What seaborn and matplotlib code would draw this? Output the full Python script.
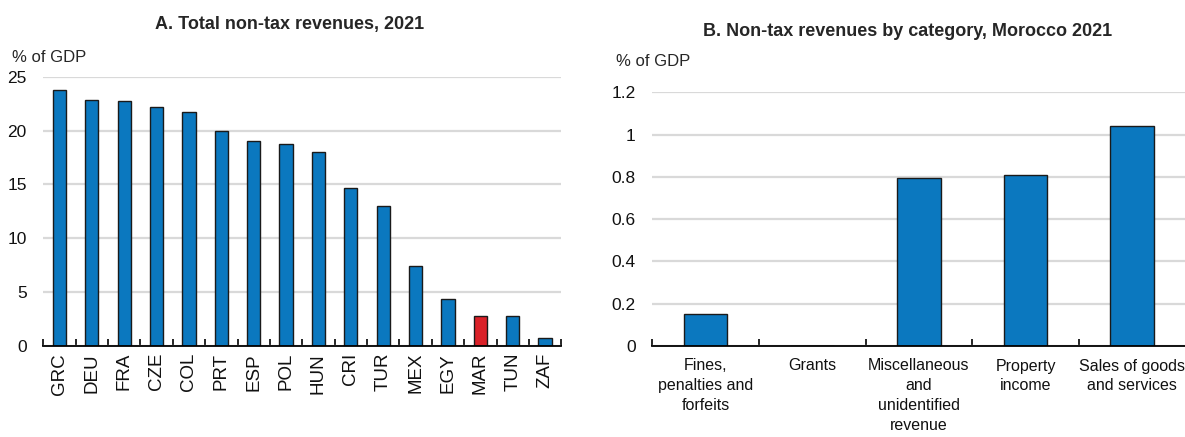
import matplotlib
matplotlib.use("Agg")
import matplotlib.pyplot as plt
import seaborn as sns
import pandas as pd
from matplotlib.ticker import FixedLocator, NullFormatter

# ---- data ----
countries = ["GRC", "DEU", "FRA", "CZE", "COL", "PRT", "ESP", "POL", "HUN",
             "CRI", "TUR", "MEX", "EGY", "MAR", "TUN", "ZAF"]
nontax_total = [23.8, 22.8, 22.7, 22.2, 21.7, 20.0, 19.0, 18.75, 18.0,
                14.65, 13.0, 7.4, 4.4, 2.8, 2.75, 0.7]
highlight = "MAR"

categories = ["Fines,\npenalties and\nforfeits", "Grants",
              "Miscellaneous\nand\nunidentified\nrevenue", "Property\nincome",
              "Sales of goods\nand services"]
morocco_values = [0.15, 0.0, 0.795, 0.81, 1.04]

title_a = "A. Total non-tax revenues, 2021"
title_b = "B. Non-tax revenues by category, Morocco 2021"
unit = "% of GDP"
yticks_a = [0, 5, 10, 15, 20, 25]
yticks_b = [0, 0.2, 0.4, 0.6, 0.8, 1, 1.2]
yticklabels_b = ["0", "0.2", "0.4", "0.6", "0.8", "1", "1.2"]

BLUE = "#0B78BF"
RED = "#DA2128"
GRID = "#D9D9D9"

sns.set_theme(style="white")
plt.rcParams["font.family"] = ["Liberation Sans", "DejaVu Sans"]

W, H = 1185, 437
fig = plt.figure(figsize=(W / 100, H / 100), dpi=100)

def ax_rect(x0, x1, ytop, ybot):
    return [x0 / W, 1 - ybot / H, (x1 - x0) / W, (ybot - ytop) / H]

axA = fig.add_axes(ax_rect(43.3, 561.3, 76.7, 346))
axB = fig.add_axes(ax_rect(652.3, 1185.5, 92.3, 346))

fs = 12.5

def style(ax, n, ymax, yticks, ylabels):
    ax.set_ylim(0, ymax)
    ax.set_xlim(-0.5, n - 0.5)
    ax.set_yticks(yticks)
    ax.set_yticklabels(ylabels, fontsize=fs)
    ax.yaxis.grid(True, color=GRID, linewidth=1.6)
    ax.xaxis.grid(False)
    ax.set_axisbelow(True)
    for s in ["left", "right", "top"]:
        ax.spines[s].set_visible(False)
    ax.spines["bottom"].set_color("black")
    ax.spines["bottom"].set_linewidth(1.3)
    ax.spines["bottom"].set_zorder(5)
    ax.tick_params(axis="y", length=0, pad=12, labelcolor="#111111")
    ax.tick_params(axis="x", which="major", length=0, labelcolor="#111111")
    ax.xaxis.set_minor_locator(FixedLocator([i - 0.5 for i in range(n + 1)]))
    ax.xaxis.set_minor_formatter(NullFormatter())
    ax.tick_params(axis="x", which="minor", direction="in", length=5,
                   width=1.2, color="black", bottom=True)
    ax.set_xlabel("")
    ax.set_ylabel("")

# ---- panel A ----
dfA = pd.DataFrame({"country": countries, "value": nontax_total})
palA = {c: (RED if c == highlight else BLUE) for c in countries}
sns.barplot(data=dfA, x="country", y="value", hue="country", palette=palA,
            order=countries, width=0.41, edgecolor="#1a1a1a", linewidth=1.0,
            saturation=1, legend=False, ax=axA)
style(axA, len(countries), 25, yticks_a, [str(v) for v in yticks_a])
axA.set_xticks(range(len(countries)))
axA.set_xticklabels(countries, rotation=90, fontsize=13.5)
axA.tick_params(axis="x", which="major", pad=5)

# ---- panel B ----
dfB = pd.DataFrame({"category": categories, "value": morocco_values})
sns.barplot(data=dfB, x="category", y="value", color=BLUE, order=categories,
            width=0.41, edgecolor="#1a1a1a", linewidth=1.0, saturation=1,
            ax=axB)
style(axB, len(categories), 1.2, yticks_b, yticklabels_b)
axB.set_xticks(range(len(categories)))
axB.set_xticklabels(categories, fontsize=11.5, linespacing=1.4)
axB.tick_params(axis="x", which="major", pad=9)

# ---- titles and units ----
fig.text(290 / W, 1 - 25 / H, title_a, ha="center", va="center",
         fontsize=13, fontweight="bold")
fig.text(908 / W, 1 - 31 / H, title_b, ha="center", va="center",
         fontsize=13, fontweight="bold")
fig.text(12 / W, 1 - 57 / H, unit, ha="left", va="center", fontsize=12)
fig.text(616 / W, 1 - 62 / H, unit, ha="left", va="center", fontsize=12)

fig.savefig("out.png", dpi=100)
